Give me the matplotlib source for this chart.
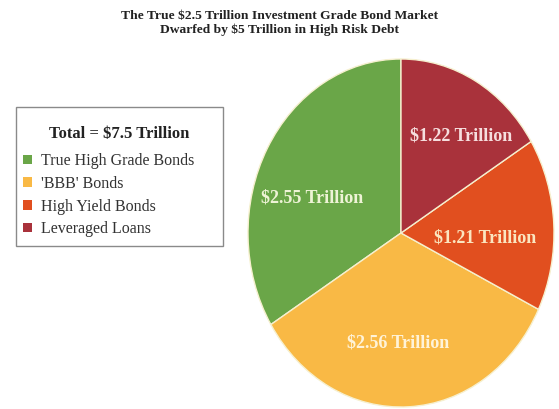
import numpy as np
import matplotlib
matplotlib.use("Agg")
import matplotlib.pyplot as plt
from matplotlib.patches import Patch, Rectangle

#####
# Data
#####

categories = ["True High Grade Bonds", "'BBB' Bonds", "High Yield Bonds", "Leveraged Loans"]
values = [2.55, 2.56, 1.21, 1.22]     # trillions of dollars
total_label = 7.5

colors = ["#6aa648", "#f9b945", "#e14f1f", "#a9323b"]
label_colors = ["#eef3d6", "#fff3d8", "#fbe6c0", "#f6dede"]
# label spots in pie coordinates (unit radius, ellipse stretched later)
label_xy = [(-0.58, 0.20), (-0.02, -0.63), (0.55, -0.03), (0.39, 0.56)]

title = "The True \\$2.5 Trillion Investment Grade Bond Market\nDwarfed by \\$5 Trillion in High Risk Debt"

#####
# Figure
#####

W, H = 559, 409
fig = plt.figure(figsize=(W / 100, H / 100), dpi=100)
plt.rcParams['font.family'] = ['Liberation Serif', 'DejaVu Serif']

# pie sits in its own axes, squashed into an ellipse
cx, cy, rx, ry = 401, 233, 153, 174
ax = fig.add_axes([(cx - rx) / W, (H - cy - ry) / H, 2 * rx / W, 2 * ry / H])
wedges, _ = ax.pie(values, colors=colors, startangle=90, counterclock=True,
                   wedgeprops=dict(edgecolor="#f6f0cf", linewidth=1.0))
ax.set_aspect('auto')
ax.set_xlim(-1, 1)
ax.set_ylim(-1, 1)
ax.axis('off')

for v, (x, y), c in zip(values, label_xy, label_colors):
    ax.text(x, y, "\\$%.2f Trillion" % v, ha='center', va='center',
            fontsize=13, fontweight='bold', color=c)

fig.text(0.5, 1 - 23 / H, title, ha='center', va='center', fontsize=9.7,
         fontweight='bold', color='#222222', linespacing=1.2)

# legend box drawn separately so the padding can differ top and bottom
fig.patches.append(Rectangle((16 / W, 1 - 246 / H), 207 / W, 139 / H,
                             transform=fig.transFigure, facecolor='white',
                             edgecolor='#8a8a8a', linewidth=1.0))

handles = [Patch(facecolor=c, edgecolor='none') for c in colors]
leg = fig.legend(handles, categories,
                 title="Total = \\$%.1f Trillion" % total_label,
                 loc='upper left',
                 bbox_to_anchor=(23 / W, 1 - 126 / H, 193 / W, 0.0),
                 mode='expand', frameon=False, fontsize=11.5,
                 title_fontproperties={'size': 12, 'weight': 'bold'},
                 handlelength=0.55, handleheight=0.55, handletextpad=0.55,
                 labelspacing=0.42, borderpad=0.0, borderaxespad=0.0)
leg._legend_box.sep = 8
for t in leg.get_texts():
    t.set_color('#333333')
leg.get_title().set_color('#222222')

fig.savefig("out.png", dpi=100)
